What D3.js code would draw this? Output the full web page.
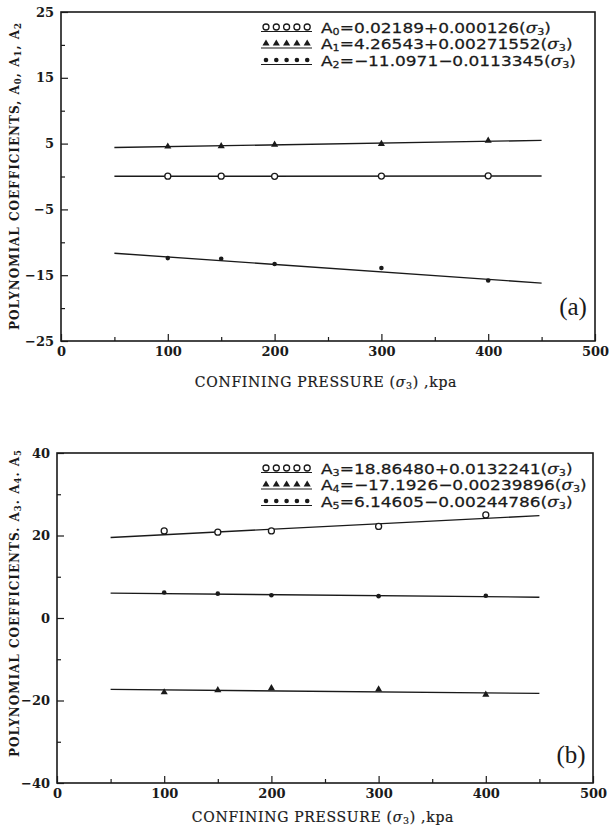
<!DOCTYPE html>
<html>
<head>
<meta charset="utf-8">
<script src="https://cdn.jsdelivr.net/npm/d3@7"></script>
<style>
  body { margin: 0; background: #fff; }
</style>
</head>
<body>
<div id="chart"></div>
<script>
// confining pressure of the test points (kPa)
var pressures = [100, 150, 200, 300, 400];

// panel (a) coefficients
var a0 = [0.05, 0.05, 0.03, 0.06, 0.1];
var a1 = [4.55, 4.6, 4.85, 4.95, 5.45];
var a2 = [-12.4, -12.5, -13.3, -13.9, -15.8];

// panel (b)
var a3 = [21.1, 20.8, 21.1, 22.2, 25.0];
var a4 = [-18.0, -17.5, -17.0, -17.3, -18.6];
var a5 = [6.2, 5.9, 5.5, 5.3, 5.4];

// fitted lines given in the legends: A = intercept + slope * sigma3
var interceptsA = [0.02189, 4.26543, -11.0971];
var slopesA = [0.000126, 0.00271552, -0.0113345];
var interceptsB = [18.86480, -17.1926, 6.14605];
var slopesB = [0.0132241, -0.00239896, -0.00244786];
var fitRange = [50, 450];

// legend labels: subscript, equation
var legendA = [["0", "=0.02189+0.000126"], ["1", "=4.26543+0.00271552"], ["2", "=\u221211.0971\u22120.0113345"]];
var legendB = [["3", "=18.86480+0.0132241"], ["4", "=\u221217.1926\u22120.00239896"], ["5", "=6.14605\u22120.00244786"]];

// ticks
var xTicks = [0, 100, 200, 300, 400, 500];
var xMinor = [50, 150, 250, 350, 450];
var yTicksA = [-25, -15, -5, 5, 15, 25];
var yMinorA = [-20, -10, 0, 10, 20];
var yTicksB = [-40, -20, 0, 20, 40];
var yMinorB = [-30, -10, 10, 30];

var markers = ["circle", "triangle", "dot"];

var svg = d3.select("#chart")
    .append("svg")
    .attr("width", 609)
    .attr("height", 833);

var ink = "#1a1a1a";
var serif = "'DejaVu Serif', serif";

function drawMarker(g, type, x, y) {
    if (type == "circle") {
        g.append("circle").attr("cx", x).attr("cy", y).attr("r", 3)
            .attr("fill", "#fff").attr("stroke", ink).attr("stroke-width", 1.3);
    } else if (type == "triangle") {
        g.append("path").attr("d", d3.symbol().type(d3.symbolTriangle).size(22)())
            .attr("transform", "translate(" + x + "," + y + ")")
            .attr("fill", ink);
    } else {
        g.append("circle").attr("cx", x).attr("cy", y).attr("r", 2.3).attr("fill", ink);
    }
}

function drawPanel(p) {
    var x = d3.scaleLinear().domain([0, 500]).range([p.left, p.right]);
    var y = d3.scaleLinear().domain(p.yDomain).range([p.bottom, p.top]);
    var g = svg.append("g");

    // x axis (ticks point inward)
    g.append("g").attr("transform", "translate(0," + p.bottom + ")")
        .call(d3.axisBottom(x).tickValues(xTicks).tickSizeInner(-7).tickSizeOuter(0).tickPadding(6));
    g.append("g").attr("transform", "translate(0," + p.bottom + ")")
        .call(d3.axisBottom(x).tickValues(xMinor).tickSizeInner(-4).tickSizeOuter(0).tickFormat(""));

    // y axis
    g.append("g").attr("transform", "translate(" + p.left + ",0)")
        .call(d3.axisLeft(y).tickValues(p.yTicks).tickSizeInner(-7).tickSizeOuter(0).tickPadding(7));
    g.append("g").attr("transform", "translate(" + p.left + ",0)")
        .call(d3.axisLeft(y).tickValues(p.yMinor).tickSizeInner(-4).tickSizeOuter(0).tickFormat(""));

    g.selectAll(".domain").remove();
    g.selectAll(".tick line").attr("stroke", ink).attr("stroke-width", 1.2);
    g.selectAll(".tick text")
        .attr("font-family", serif)
        .attr("font-weight", "bold")
        .attr("font-size", "13px")
        .attr("fill", ink);

    // frame
    g.append("rect")
        .attr("x", p.left).attr("y", p.top)
        .attr("width", p.right - p.left).attr("height", p.bottom - p.top)
        .attr("fill", "none").attr("stroke", ink).attr("stroke-width", 1.6);

    // fitted lines
    var line = d3.line().x(function (d) { return x(d[0]); }).y(function (d) { return y(d[1]); });
    p.intercepts.forEach(function (b, i) {
        var pts = fitRange.map(function (s) { return [s, b + p.slopes[i] * s]; });
        g.append("path").datum(pts).attr("d", line)
            .attr("fill", "none").attr("stroke", ink).attr("stroke-width", 1.4);
    });

    // measured points
    p.series.forEach(function (vals, i) {
        vals.forEach(function (v, j) {
            drawMarker(g, markers[i], x(pressures[j]), y(v));
        });
    });

    // legend
    p.legend.forEach(function (row, i) {
        var ly = p.top + 15 + i * 16.5;
        for (var k = 0; k < 5; k++) {
            drawMarker(g, markers[i], 266 + k * 10.3, ly);
        }
        g.append("line").attr("x1", 261).attr("x2", 312)
            .attr("y1", ly + 4.5).attr("y2", ly + 4.5)
            .attr("stroke", ink).attr("stroke-width", 1.2);
        var t = g.append("text")
            .attr("transform", "translate(321," + (ly + 5.5) + ") scale(1.17,1)")
            .attr("font-family", "'DejaVu Sans', sans-serif")
            .attr("font-size", "14.5px")
            .attr("fill", ink)
            .attr("stroke", ink)
            .attr("stroke-width", 0.25);
        t.append("tspan").text(p.letter);
        t.append("tspan").attr("font-size", "9.5px").attr("dy", 2).text(row[0]);
        t.append("tspan").attr("dy", -2).text(row[1] + "(");
        t.append("tspan").attr("font-family", serif).attr("font-style", "italic").text("\u03c3");
        t.append("tspan").attr("font-size", "9.5px").attr("dy", 2).text("3");
        t.append("tspan").attr("dy", -2).text(")");
    });

    // panel tag
    g.append("text")
        .attr("x", p.right - 22).attr("y", p.tagY)
        .attr("text-anchor", "middle")
        .attr("font-family", "'Liberation Serif', serif")
        .attr("font-size", "25px")
        .attr("fill", ink)
        .text(p.tag);

    // x title
    var xt = g.append("text")
        .attr("x", (p.left + p.right) / 2 - 2).attr("y", p.bottom + p.xTitleGap)
        .attr("text-anchor", "middle")
        .attr("font-family", serif)
        .attr("font-size", "14px")
        .attr("letter-spacing", "0.7px")
        .attr("fill", ink)
        .attr("stroke", ink)
        .attr("stroke-width", 0.2);
    xt.append("tspan").text("CONFINING PRESSURE (");
    xt.append("tspan").attr("font-style", "italic").text("\u03c3");
    xt.append("tspan").attr("font-size", "9.5px").attr("dy", 2).text("3");
    xt.append("tspan").attr("dy", -2).text(") ,kpa");

    // y title
    var yt = g.append("text")
        .attr("transform", "translate(19," + p.yTitleY + ") rotate(-90)")
        .attr("text-anchor", "middle")
        .attr("font-family", serif)
        .attr("font-weight", "bold")
        .attr("font-size", "12px")
        .attr("letter-spacing", "1px")
        .attr("fill", ink);
    yt.append("tspan").text("POLYNOMIAL  COEFFICIENTS" + p.sep + "  ");
    p.subs.forEach(function (s, i) {
        yt.append("tspan").text("A");
        yt.append("tspan").attr("font-size", "8.5px").attr("dy", 2).text(s);
        yt.append("tspan").attr("dy", -2).text(i < 2 ? p.sep + "  " : "");
    });
}

drawPanel({
    left: 61, right: 595, top: 12, bottom: 341,
    yDomain: [-25, 25], yTicks: yTicksA, yMinor: yMinorA,
    intercepts: interceptsA, slopes: slopesA,
    series: [a0, a1, a2], legend: legendA, letter: "A",
    tag: "(a)", tagY: 315, yTitleY: 176, sep: ",", subs: ["0", "1", "2"],
    xTitleGap: 46
});

drawPanel({
    left: 57, right: 593, top: 453, bottom: 783,
    yDomain: [-40, 40], yTicks: yTicksB, yMinor: yMinorB,
    intercepts: interceptsB, slopes: slopesB,
    series: [a3, a4, a5], legend: legendB, letter: "A",
    tag: "(b)", tagY: 763, yTitleY: 603, sep: ".", subs: ["3", "4", "5"],
    xTitleGap: 39
});
</script>
</body>
</html>
